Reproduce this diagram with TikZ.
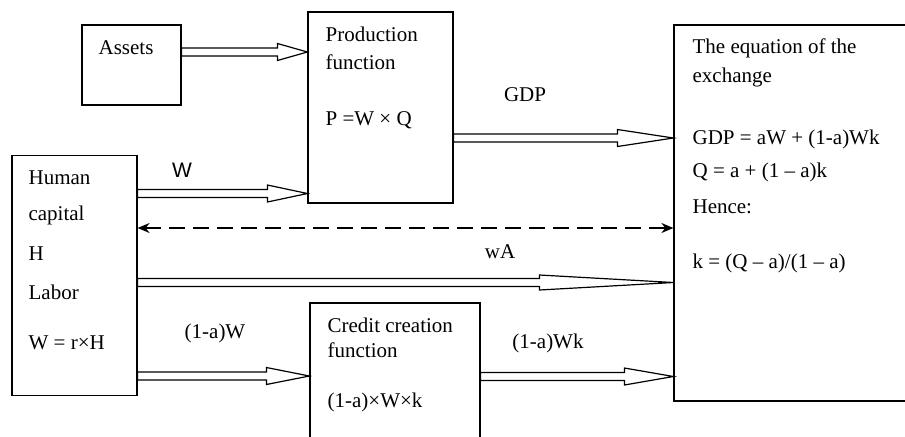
\documentclass[tikz,border=0pt]{standalone}
\usepackage{fontspec}
\setmainfont{Liberation Serif}
\newfontfamily\arialfont{Liberation Sans}
\usetikzlibrary{calc,arrows.meta}

% hollow double arrow: start, end, head length, head half width
\newcommand{\fatarrow}[4]{%
  \draw[fill=white] ($(#1)+(0,4)$) -- ($(#2)+(-#3,4)$) -- ($(#2)+(-#3,#4)$) -- (#2)
    -- ($(#2)+(-#3,-#4)$) -- ($(#2)+(-#3,-4)$) -- ($(#1)+(0,-4)$) -- cycle;}

\tikzset{
  box/.style={draw, inner sep=0pt},
  txt/.style={anchor=west, inner sep=0pt, font=\fontsize{10.5}{12}\selectfont},
  lbl/.style={inner sep=0pt, font=\fontsize{10.5}{12}\selectfont}
}

\begin{document}
\begin{tikzpicture}[x=0.5pt, y=-0.5pt, line width=0.6pt]
\clip (0,0) rectangle (905,436);

% Assets
\node[box,
    minimum width=49.5pt,
    minimum height=40pt] (As) at (131.5,65){};
\node[txt] (as1) at (98,48) {Assets};

% Production function
\node[box,
    minimum width=72.5pt,
    minimum height=95.5pt] (P) at (380.5,107.5){};
\node[txt] (p1) at (325,34) {Production};
\node[txt] (p2) at (325,62) {function};
\node[txt] (p3) at (325,120) {P =W × Q};

% Human capital
\node[box,
    minimum width=62.5pt,
    minimum height=120pt] (H) at (74.5,275.5){};
\node[txt] (h1) at (28,178) {Human};
\node[txt] (h2) at (28,215) {capital};
\node[txt] (h3) at (28,254) {H};
\node[txt] (h4) at (28,292) {Labor};
\node[txt] (h5) at (28,343) {W = r×H};

% Credit creation function
\node[box,
    minimum width=85pt,
    minimum height=73.5pt] (C) at (395,376.5){};
\node[txt] (c1) at (327,325) {Credit creation};
\node[txt] (c2) at (327,350) {function};
\node[txt] (c3) at (327,402) {(1-a)×W×k};

% Equation of the exchange
\node[box,
    minimum width=125pt,
    minimum height=188pt] (E) at (799,213){};
\node[txt] (e1) at (692,48) {The equation of the};
\node[txt] (e2) at (692,77) {exchange};
\node[txt] (e3) at (692,139) {GDP = aW + (1-a)Wk};
\node[txt] (e4) at (692,172) {Q = a + (1 – a)k};
\node[txt] (e5) at (692,207) {Hence:};
\node[txt] (e6) at (692,263) {k = (Q – a)/(1 – a)};

% Arrow end points
\coordinate (a1) at ([yshift=6.5pt]As.east);
\coordinate (a2) at (a1 -| P.west);
\coordinate (w1) at ([yshift=41pt]H.east);
\coordinate (w2) at (w1 -| P.west);
\coordinate (g1) at ([yshift=-15.25pt]P.east);
\coordinate (g2) at (g1 -| E.west);
\coordinate (d1) at ([yshift=23.75pt]H.east);
\coordinate (d2) at (d1 -| E.west);
\coordinate (v1) at ([yshift=-3.5pt]H.east);
\coordinate (v2) at (v1 -| E.west);
\coordinate (k1) at ([yshift=-50.25pt]H.east);
\coordinate (k2) at (k1 -| C.west);
\coordinate (m1) at (C.east);
\coordinate (m2) at (m1 -| E.west);

% Flows
\fatarrow{a1}{a2}{30}{8.5}
\fatarrow{w1}{w2}{40}{8.5}
\fatarrow{g1}{g2}{56}{8.5}
\fatarrow{v1}{v2}{134}{7.5}
\fatarrow{k1}{k2}{43}{8.5}
\fatarrow{m1}{m2}{49}{8.5}
\draw[dashed, dash pattern=on 8pt off 4pt, line width=0.8pt,
    {Stealth[length=6pt,width=5pt]}-{Stealth[length=6pt,width=5pt]}] (d1) -- (d2);

% Flow labels
\node[lbl, font=\arialfont\fontsize{10.5}{12}\selectfont] (lw) at (182,170) {W};
\node[lbl] (lg) at (525,95) {GDP};
\node[lbl] (la) at (500,252) {wA};
\node[lbl] (lk) at (215,333) {(1-a)W};
\node[lbl] (lm) at (548,343) {(1-a)Wk};

\end{tikzpicture}
\end{document}
